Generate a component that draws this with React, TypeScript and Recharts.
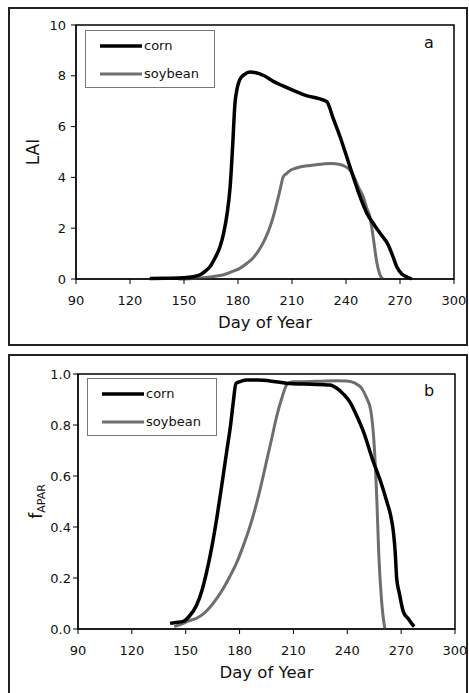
import React from "react";
import {
  LineChart,
  Line,
  XAxis,
  YAxis,
  Legend,
  ReferenceArea,
  Label,
} from "recharts";

// day of year ticks shared by both panels
const xTicks = [90, 120, 150, 180, 210, 240, 270, 300];
const laiTicks = [0, 2, 4, 6, 8, 10];
const faparTicks = [0, 0.2, 0.4, 0.6, 0.8, 1.0];

// panel a - LAI
const cornLaiDay = [131, 140, 150, 155, 159, 162, 164.4, 167, 170, 172, 174, 175.6, 177, 178.3, 179.5, 181, 183.5, 186.7, 190, 194.5, 199.6, 205, 212.6, 219, 225, 229.3, 233, 236.7, 240, 244, 247.5, 251.5, 256, 260, 263, 266, 268.2, 271, 273.7, 276.5];
const cornLai = [0.02, 0.03, 0.05, 0.09, 0.17, 0.32, 0.48, 0.8, 1.27, 1.8, 2.6, 3.6, 5.2, 6.9, 7.5, 7.85, 8.05, 8.15, 8.12, 8.0, 7.78, 7.6, 7.37, 7.2, 7.1, 6.98, 6.3, 5.6, 4.9, 4.03, 3.3, 2.6, 2.1, 1.7, 1.4, 0.9, 0.48, 0.2, 0.09, 0.0];
const soyLaiDay = [147, 155, 162, 168, 172, 177, 181, 185, 188, 190.4, 193, 195.5, 197.8, 200, 201.5, 203, 205.2, 207, 209, 212, 215, 220, 227.4, 232, 236, 239, 242, 244, 247, 249.6, 251.5, 253.3, 255.2, 257, 258.7, 260.5];
const soyLai = [0.0, 0.02, 0.06, 0.12, 0.17, 0.3, 0.42, 0.62, 0.8, 1.01, 1.3, 1.65, 2.06, 2.55, 2.98, 3.4, 4.03, 4.15, 4.27, 4.36, 4.42, 4.47, 4.53, 4.55, 4.52, 4.45, 4.3, 4.09, 3.6, 3.24, 2.8, 2.45, 1.6, 0.7, 0.2, 0.0];

// panel b - fAPAR
const cornFaparDay = [141.3, 144, 148.7, 152, 156.1, 159, 161.7, 164.5, 167.3, 170, 172.8, 175, 176.5, 178, 181, 184, 190, 200, 208, 220, 230.4, 234, 238, 241.5, 245, 249, 254.5, 258, 262, 264, 265.7, 266.7, 267.5, 269, 271.2, 274, 276, 277.3];
const cornFapar = [0.022, 0.025, 0.03, 0.05, 0.094, 0.15, 0.225, 0.32, 0.434, 0.56, 0.695, 0.8, 0.89, 0.963, 0.972, 0.976, 0.976, 0.97, 0.963, 0.96, 0.957, 0.945, 0.92, 0.89, 0.84, 0.774, 0.656, 0.59, 0.5, 0.45, 0.38, 0.3, 0.2, 0.14, 0.068, 0.04, 0.02, 0.01];
const soyFaparDay = [143.6, 148, 151, 156.1, 160, 163.5, 167.3, 171, 174.5, 178.4, 182, 185, 187.7, 191, 195.1, 198, 200.7, 203.5, 206.3, 209.4, 215, 225, 233.8, 239.7, 244, 248, 250.5, 253, 255, 256.5, 257.5, 259, 260.5, 261];
const soyFapar = [0.01, 0.02, 0.03, 0.042, 0.06, 0.085, 0.12, 0.16, 0.205, 0.26, 0.325, 0.385, 0.447, 0.535, 0.66, 0.75, 0.835, 0.905, 0.958, 0.97, 0.97, 0.972, 0.974, 0.973, 0.965, 0.944, 0.91, 0.86, 0.72, 0.5, 0.3, 0.12, 0.02, 0.0];

const FONT = "'DejaVu Sans', Verdana, sans-serif";

const toPoints = (days: number[], vals: number[]) =>
  days.map((d, i) => ({ day: d, v: vals[i] }));

const LegendBox = () => (
  <div
    style={{
      width: 130,
      height: 58,
      boxSizing: "border-box",
      border: "1px solid #777",
      background: "#fff",
      position: "relative",
      fontFamily: FONT,
      fontSize: 13,
      color: "#111",
    }}
  >
    {[
      { name: "corn", color: "#000", w: 3.5, y: 15 },
      { name: "soybean", color: "#6e6e6e", w: 3, y: 43 },
    ].map((r) => (
      <div key={r.name} style={{ position: "absolute", left: 14, top: r.y - 9, height: 18, display: "flex", alignItems: "center" }}>
        <svg width={42} height={18}>
          <line x1={0} x2={42} y1={9} y2={9} stroke={r.color} strokeWidth={r.w} />
        </svg>
        <span style={{ marginLeft: 2, lineHeight: "18px" }}>{r.name}</span>
      </div>
    ))}
  </div>
);

const XTitle = ({ viewBox }: any) => (
  <text
    x={viewBox.x + viewBox.width / 2}
    y={viewBox.y + 49}
    textAnchor="middle"
    fontFamily={FONT}
    fontSize={16.5}
    fill="#111"
  >
    Day of Year
  </text>
);

const LaiTitle = ({ viewBox }: any) => {
  const cx = 33;
  const cy = viewBox.y + viewBox.height / 2;
  return (
    <text x={cx} y={cy} transform={`rotate(-90 ${cx} ${cy})`} textAnchor="middle" dominantBaseline="central" fontFamily={FONT} fontSize={17} fill="#111">
      LAI
    </text>
  );
};

const FaparTitle = ({ viewBox }: any) => {
  const cx = 36;
  const cy = viewBox.y + viewBox.height / 2;
  return (
    <text x={cx} y={cy} transform={`rotate(-90 ${cx} ${cy})`} textAnchor="middle" dominantBaseline="central" fontFamily={FONT} fill="#111">
      <tspan fontSize={17}>f</tspan>
      <tspan fontSize={11} dy={5}>APAR</tspan>
    </text>
  );
};

interface PanelProps {
  top: number;
  height: number;
  margin: { top: number; right: number; bottom: number; left: number };
  yAxisWidth: number;
  yTicks: number[];
  yMax: number;
  tickFmt: (v: number) => string;
  yTitle: any;
  yTickMargin: number;
  corn: { day: number; v: number }[];
  soy: { day: number; v: number }[];
  letter: string;
  letterTop: number;
  legendLeft: number;
  legendTop: number;
}

const Panel = (p: PanelProps) => (
  <div style={{ position: "absolute", left: 0, top: p.top }}>
    <LineChart width={469} height={p.height} margin={p.margin}>
      <XAxis
        dataKey="day"
        type="number"
        domain={[90, 300]}
        ticks={xTicks}
        allowDataOverflow
        height={30}
        tickSize={5}
        tickMargin={12}
        stroke="#000"
        tick={{ fontSize: 13, fill: "#111", fontFamily: FONT }}
      >
        <Label content={<XTitle />} />
      </XAxis>
      <YAxis
        type="number"
        domain={[0, p.yMax]}
        ticks={p.yTicks}
        width={p.yAxisWidth}
        tickSize={5}
        tickMargin={p.yTickMargin}
        tickFormatter={p.tickFmt}
        stroke="#000"
        tick={{ fontSize: 13, fill: "#111", fontFamily: FONT }}
      >
        <Label content={p.yTitle} />
      </YAxis>
      <ReferenceArea x1={90} x2={300} y1={0} y2={p.yMax} fill="none" stroke="#000" strokeWidth={1.5} />
      <Legend
        layout="horizontal"
        verticalAlign="middle"
        align="center"
        content={<LegendBox />}
        wrapperStyle={{ left: p.legendLeft, top: p.legendTop, width: 130, height: 58 }}
      />
      <Line
        data={p.soy}
        dataKey="v"
        name="soybean"
        type="monotone"
        stroke="#6e6e6e"
        strokeWidth={3}
        dot={false}
        isAnimationActive={false}
      />
      <Line
        data={p.corn}
        dataKey="v"
        name="corn"
        type="monotone"
        stroke="#000"
        strokeWidth={3.5}
        dot={false}
        isAnimationActive={false}
      />
    </LineChart>
    <div
      style={{
        position: "absolute",
        left: 424,
        top: p.letterTop,
        fontFamily: FONT,
        fontSize: 16,
        color: "#111",
      }}
    >
      {p.letter}
    </div>
  </div>
);

export default function App() {
  return (
    <div style={{ position: "absolute", left: 0, top: 0, width: 469, height: 693, overflow: "hidden", background: "#fff" }}>
      <div style={{ position: "absolute", left: 8, top: 7, width: 460, height: 339, border: "2px solid #222", boxSizing: "border-box" }} />
      <div style={{ position: "absolute", left: 8, top: 354, width: 460, height: 360, border: "2px solid #222", boxSizing: "border-box" }} />
      <Panel
        top={0}
        height={345}
        margin={{ top: 25, right: 15, bottom: 36, left: 20 }}
        yAxisWidth={56}
        yTicks={laiTicks}
        yMax={10}
        tickFmt={(v) => String(v)}
        yTitle={<LaiTitle />}
        yTickMargin={5}
        corn={toPoints(cornLaiDay, cornLai)}
        soy={toPoints(soyLaiDay, soyLai)}
        letter="a"
        letterTop={33}
        legendLeft={85}
        legendTop={30}
      />
      <Panel
        top={345}
        height={348}
        margin={{ top: 29, right: 14, bottom: 34, left: 20 }}
        yAxisWidth={58}
        yTicks={faparTicks}
        yMax={1}
        tickFmt={(v) => v.toFixed(1)}
        yTitle={<FaparTitle />}
        yTickMargin={2}
        corn={toPoints(cornFaparDay, cornFapar)}
        soy={toPoints(soyFaparDay, soyFapar)}
        letter="b"
        letterTop={36}
        legendLeft={87}
        legendTop={33}
      />
    </div>
  );
}
